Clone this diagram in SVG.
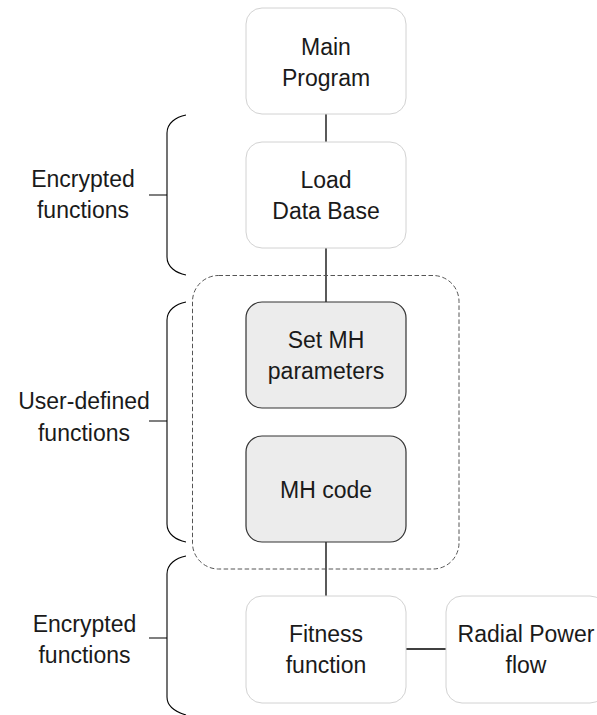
<svg xmlns="http://www.w3.org/2000/svg" width="597" height="715" viewBox="0 0 597 715">
<style>
text{font-family:"Liberation Sans",Arial,sans-serif;font-size:23px;fill:#1a1a1a;text-anchor:middle}
.w{fill:#ffffff;stroke:#d2d2d2;stroke-width:1}
.g{fill:#ececec;stroke:#333333;stroke-width:1.2}
.c{fill:none;stroke:#000000;stroke-width:1.3}
.b{fill:none;stroke:#000000;stroke-width:1.1}
.d{fill:none;stroke:#555555;stroke-width:1;stroke-dasharray:4.5 2.5}
</style>
<rect width="597" height="715" fill="#ffffff"/>
<g id="connectors">
<line class="c" x1="326" y1="114" x2="326" y2="142"/>
<line class="c" x1="326" y1="248" x2="326" y2="302"/>
<line class="c" x1="326" y1="542" x2="326" y2="596"/>
<line class="c" x1="406" y1="649" x2="446" y2="649"/>
</g>
<g id="user-group">
<rect class="d" x="192.5" y="275.5" width="266.5" height="293.5" rx="26"/>
</g>
<g id="brace-encrypted-1">
<path class="b" d="M186,115 C176,117 167,123 167,133 V257 C167,267 176,273 186,275 M149,195 H167"/>
<text x="83" y="187">Encrypted</text>
<text x="83" y="218">functions</text>
</g>
<g id="brace-user">
<path class="b" d="M186,302 C176,304 167,310 167,320 V524 C167,534 176,540 186,542 M149,421 H167"/>
<text x="84" y="409">User-defined</text>
<text x="84" y="440.5">functions</text>
</g>
<g id="brace-encrypted-2">
<path class="b" d="M186,556 C176,558 167,564 167,574 V697 C167,707 176,712 186,715 M149,638 H167"/>
<text x="84.5" y="631.5">Encrypted</text>
<text x="84.5" y="662.5">functions</text>
</g>
<g id="main-program">
<rect class="w" x="246" y="8" width="160" height="106" rx="16"/>
<text x="326" y="54.5">Main</text>
<text x="326" y="86">Program</text>
</g>
<g id="load-data-base">
<rect class="w" x="246" y="142" width="160" height="106" rx="16"/>
<text x="326" y="187.5">Load</text>
<text x="326" y="218.5">Data Base</text>
</g>
<g id="set-mh-parameters">
<rect class="g" x="246" y="302" width="160" height="106" rx="16"/>
<text x="326" y="347.5">Set MH</text>
<text x="326" y="379">parameters</text>
</g>
<g id="mh-code">
<rect class="g" x="246" y="436" width="160" height="106" rx="16"/>
<text x="326" y="497.5">MH code</text>
</g>
<g id="fitness-function">
<rect class="w" x="246" y="596" width="160" height="107" rx="16"/>
<text x="326" y="641.5">Fitness</text>
<text x="326" y="673">function</text>
</g>
<g id="radial-power-flow">
<rect class="w" x="446" y="596" width="160" height="107" rx="16"/>
<text x="526" y="641.5">Radial Power</text>
<text x="526" y="673">flow</text>
</g>
</svg>
